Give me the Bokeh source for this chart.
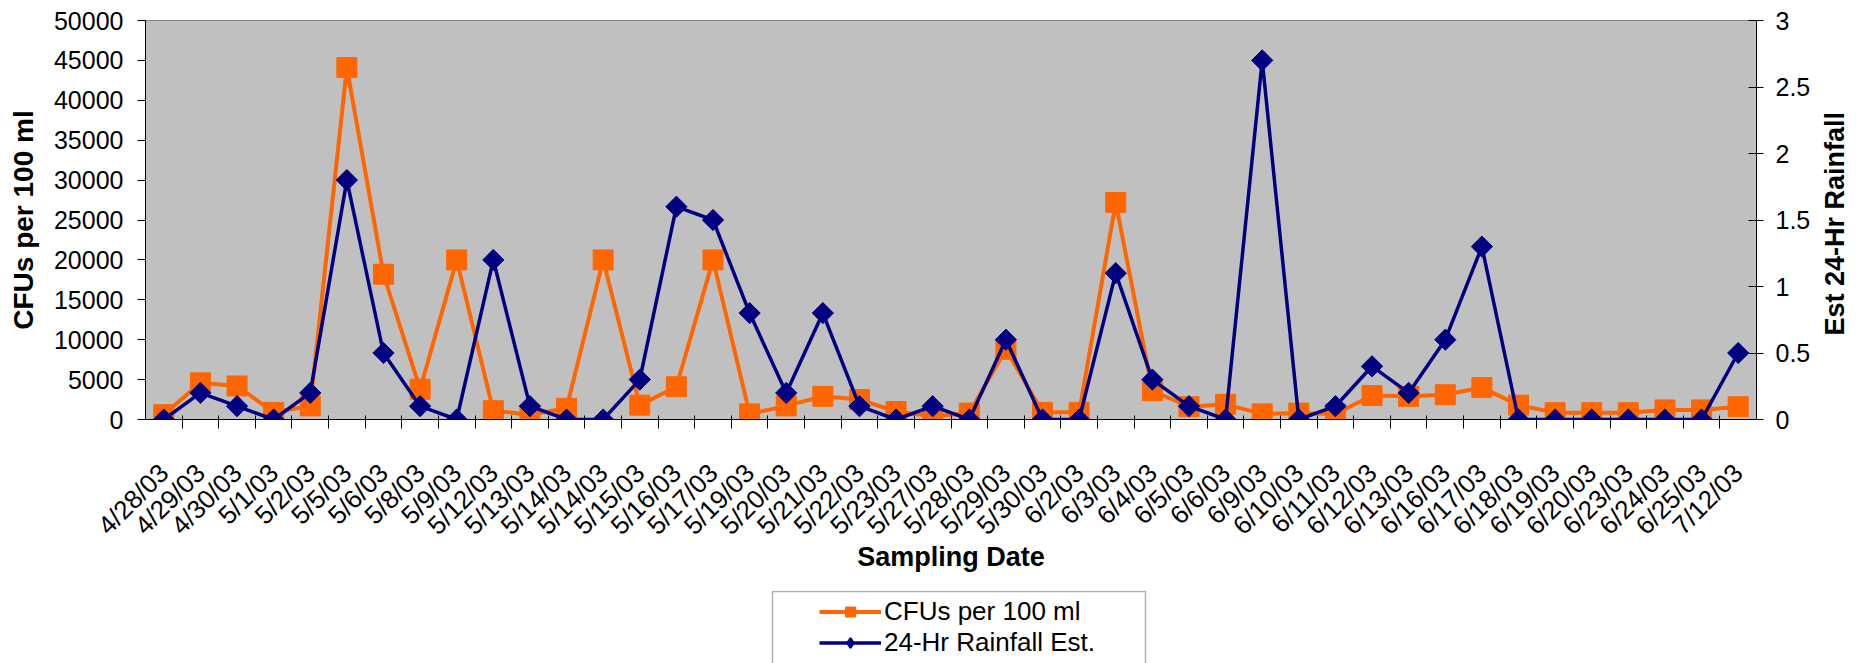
import numpy as np
from bokeh.plotting import figure
from bokeh.layouts import column, row
from bokeh.models import (Range1d, LinearAxis, FixedTicker, NumeralTickFormatter,
                          Legend, LegendItem, BoxAnnotation, Label)
from bokeh.embed import file_html
from bokeh.resources import INLINE

# ---------------- data ----------------
dates = ["4/28/03", "4/29/03", "4/30/03", "5/1/03", "5/2/03", "5/5/03", "5/6/03",
         "5/8/03", "5/9/03", "5/12/03", "5/13/03", "5/14/03", "5/14/03", "5/15/03",
         "5/16/03", "5/17/03", "5/19/03", "5/20/03", "5/21/03", "5/22/03", "5/23/03",
         "5/27/03", "5/28/03", "5/29/03", "5/30/03", "6/2/03", "6/3/03", "6/4/03",
         "6/5/03", "6/6/03", "6/9/03", "6/10/03", "6/11/03", "6/12/03", "6/13/03",
         "6/16/03", "6/17/03", "6/18/03", "6/19/03", "6/20/03", "6/23/03", "6/24/03",
         "6/25/03", "7/12/03"]

cfu = [600, 4600, 4200, 900, 1700, 44100, 18200, 3800, 20000, 1100, 600, 1400,
       20000, 1800, 4100, 20000, 700, 1700, 2900, 2500, 1000, 400, 800, 8800,
       900, 900, 27200, 3600, 1600, 1900, 700, 800, 700, 3000, 2900, 3100,
       4000, 1800, 850, 850, 850, 1200, 1200, 1600]

rain = [0, 0.2, 0.1, 0, 0.2, 1.8, 0.5, 0.1, 0, 1.2, 0.1, 0, 0, 0.3, 1.6, 1.5,
        0.8, 0.2, 0.8, 0.1, 0, 0.1, 0, 0.6, 0, 0, 1.1, 0.3, 0.1, 0, 2.7, 0,
        0.1, 0.4, 0.2, 0.6, 1.3, 0, 0, 0, 0, 0, 0, 0.5]

cfu_ticks = [0, 5000, 10000, 15000, 20000, 25000, 30000, 35000, 40000, 45000, 50000]
rain_ticks = [0, 0.5, 1, 1.5, 2, 2.5, 3]

cfu_label = "CFUs per 100 ml"
rain_label = "24-Hr Rainfall Est."
x_title = "Sampling Date"
y_title = "CFUs per 100 ml"
y2_title = "Est  24-Hr Rainfall"

FONT = "Liberation Sans"
ORANGE = "#FF6600"
NAVY = "#000080"

xs = list(range(len(dates)))

# ---------------- main figure ----------------
p = figure(width=1813, height=590, output_backend="svg", toolbar_location=None,
           x_range=Range1d(-0.5, len(dates) - 0.5),
           y_range=Range1d(cfu_ticks[0], cfu_ticks[-1]),
           min_border_left=145, min_border_right=56,
           min_border_top=20, min_border_bottom=171)
p.extra_y_ranges = {"rain": Range1d(rain_ticks[0], rain_ticks[-1])}

p.background_fill_color = "#C0C0C0"
p.border_fill_color = "white"
p.outline_line_color = "#808080"
p.outline_line_width = 1
p.xgrid.visible = False
p.ygrid.visible = False

# x axis
xa = p.xaxis[0]
xa.ticker = FixedTicker(ticks=xs, minor_ticks=[i + 0.5 for i in range(len(dates) - 1)])
xa.major_label_overrides = {i: d for i, d in enumerate(dates)}
xa.major_label_orientation = np.pi / 4
xa.major_tick_in = 0
xa.major_tick_out = 0
xa.major_tick_line_color = None
xa.minor_tick_in = 4
xa.minor_tick_out = 9
xa.minor_tick_line_color = "black"
xa.axis_line_color = "black"
xa.major_label_text_font = FONT
xa.major_label_text_font_size = "26px"
xa.major_label_text_color = "black"
xa.major_label_standoff = 40
xa.axis_label = x_title
xa.axis_label_text_font = FONT
xa.axis_label_text_font_size = "27px"
xa.axis_label_text_font_style = "bold"
xa.axis_label_text_color = "black"
xa.axis_label_standoff = -12

# left axis
ya = p.yaxis[0]
ya.ticker = FixedTicker(ticks=cfu_ticks)
ya.formatter = NumeralTickFormatter(format="0")
ya.major_tick_in = 0
ya.major_tick_out = 8
ya.minor_tick_line_color = None
ya.axis_line_color = "black"
ya.major_tick_line_color = "black"
ya.major_label_text_font = FONT
ya.major_label_text_font_size = "25px"
ya.major_label_text_color = "black"
ya.major_label_standoff = 14
ya.axis_label = y_title
ya.axis_label_text_font = FONT
ya.axis_label_text_font_size = "28px"
ya.axis_label_text_font_style = "bold"
ya.axis_label_text_color = "black"
ya.axis_label_standoff = 12

# right axis
ra = LinearAxis(y_range_name="rain", ticker=FixedTicker(ticks=rain_ticks),
                formatter=NumeralTickFormatter(format="0.[0]"))
ra.major_tick_in = 8
ra.major_tick_out = 7
ra.minor_tick_line_color = None
ra.axis_line_color = "black"
ra.major_tick_line_color = "black"
ra.major_label_text_font = FONT
ra.major_label_text_font_size = "25px"
ra.major_label_text_color = "black"
ra.major_label_standoff = 12
p.add_layout(ra, "right")

# ---------------- series ----------------
l1 = p.line(xs, cfu, line_color=ORANGE, line_width=4)
s1 = p.scatter(xs, cfu, marker="square", size=20, fill_color=ORANGE, line_color=ORANGE)
l2 = p.line(xs, rain, line_color=NAVY, line_width=3.5, y_range_name="rain")
s2 = p.scatter(xs, rain, marker="square", angle=np.pi / 4, size=15,
               fill_color=NAVY, line_color=NAVY, y_range_name="rain")

# ---------------- right title strip ----------------
r = figure(width=43, height=590, output_backend="svg", toolbar_location=None,
           x_range=Range1d(0, 1), y_range=Range1d(0, 1),
           x_axis_type=None, y_axis_type=None,
           min_border_left=0, min_border_right=0, min_border_top=20, min_border_bottom=171)
r.outline_line_color = None
r.background_fill_color = "white"
r.border_fill_color = "white"
r.grid.visible = False
r.add_layout(Label(x=0.5, y=0.5, x_units="data", y_units="data",
                   text=y2_title, angle=np.pi / 2, text_align="center",
                   text_baseline="middle", text_font=FONT, text_font_size="27px",
                   text_font_style="bold", text_color="black"))

# ---------------- legend strip ----------------
q = figure(width=1856, height=73, output_backend="svg", toolbar_location=None,
           x_range=Range1d(0, 1), y_range=Range1d(0, 1),
           x_axis_type=None, y_axis_type=None,
           min_border_left=145, min_border_right=0, min_border_top=0, min_border_bottom=0)
q.outline_line_color = None
q.background_fill_color = "white"
q.border_fill_color = "white"
q.grid.visible = False

ql1 = q.line([-5, -4], [-5, -5], line_color=ORANGE, line_width=4)
qs1 = q.scatter([-5], [-5], marker="square", size=14, fill_color=ORANGE, line_color=ORANGE)
ql2 = q.line([-5, -4], [-5, -5], line_color=NAVY, line_width=3.5)
qs2 = q.scatter([-5], [-5], marker="diamond", size=14,
                fill_color=NAVY, line_color=NAVY, line_width=2)

q.add_layout(BoxAnnotation(left=772 - 145, right=1145 - 145, top=72, bottom=-20,
                           left_units="screen", right_units="screen",
                           top_units="screen", bottom_units="screen",
                           fill_color="white", fill_alpha=1.0,
                           line_color="black", line_width=1.5))

legend = Legend(items=[LegendItem(label=cfu_label, renderers=[ql1, qs1]),
                       LegendItem(label=rain_label, renderers=[ql2, qs2])],
                location=(825 - 6 - 145, 5),
                glyph_width=62, glyph_height=25, label_height=25, spacing=0,
                padding=6, margin=0, label_standoff=3,
                border_line_color=None, background_fill_alpha=0.0,
                label_text_font=FONT, label_text_font_size="26px",
                label_text_color="black")
q.add_layout(legend)

layout = column(row(p, r, spacing=0), q, spacing=0)
open("out.html", "w").write(file_html(layout, INLINE))
